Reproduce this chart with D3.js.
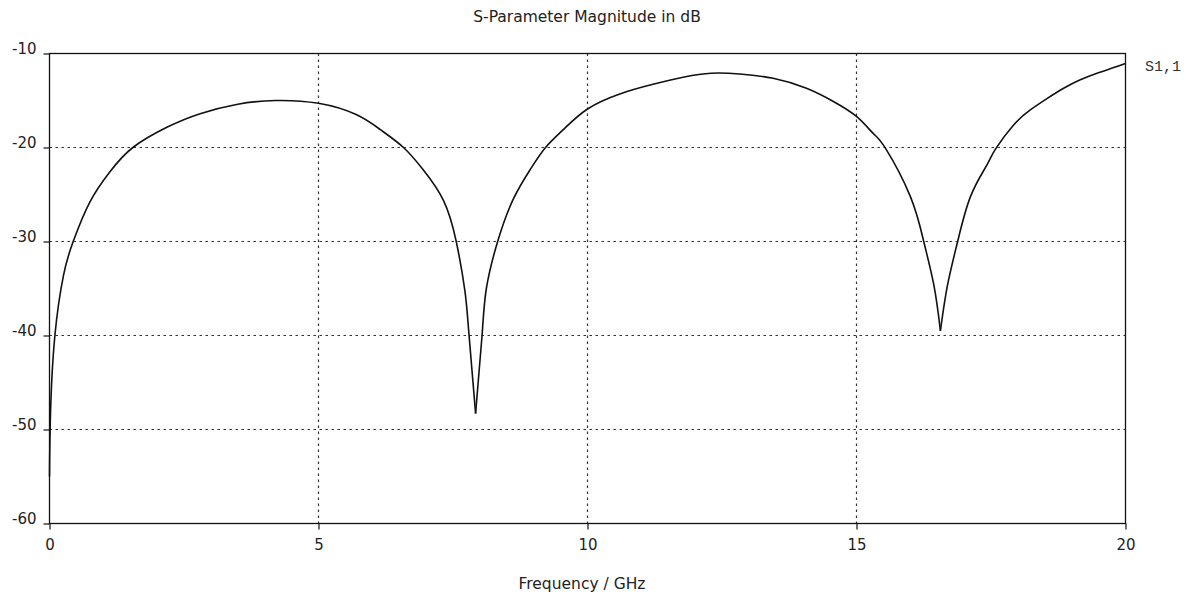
<!DOCTYPE html>
<html>
<head>
<meta charset="utf-8">
<script src="https://cdn.jsdelivr.net/npm/d3@7"></script>
<style>
  html, body { margin: 0; padding: 0; background: #ffffff; }
  svg { display: block; }
</style>
</head>
<body>
<svg id="chart" width="1192" height="598"></svg>
<script>
// ---- data ----
const frequencyGHz = [0, 0.02, 0.1, 0.26, 0.44, 0.75, 1.12, 1.55, 2.2, 2.8, 3.5, 4.2, 5.0, 5.7, 6.15, 6.58, 6.95, 7.32, 7.56, 7.72, 7.79, 7.92, 8.04, 8.12, 8.33, 8.62, 8.94, 9.22, 9.55, 10.0, 10.6, 11.2, 11.8, 12.3, 12.83, 13.45, 14.07, 14.57, 15.0, 15.31, 15.54, 16.0, 16.25, 16.44, 16.56, 16.69, 16.88, 17.12, 17.42, 17.58, 17.92, 18.23, 18.54, 18.85, 19.16, 19.47, 19.78, 20];
const s11dB = [-55, -48, -40, -33.6, -30, -25.8, -22.6, -20, -17.8, -16.4, -15.4, -15.0, -15.3, -16.5, -18.1, -20, -22.4, -25.6, -30, -35.2, -39.4, -48.3, -40, -35, -30, -25.5, -22.3, -20, -18.1, -15.9, -14.3, -13.3, -12.5, -12.1, -12.18, -12.64, -13.7, -15.1, -16.7, -18.5, -20.1, -25.2, -30, -34.7, -39.5, -34.7, -30, -25.2, -21.9, -20.2, -17.6, -16.0, -14.8, -13.7, -12.8, -12.1, -11.5, -11.05];
const xTicks = [0, 5, 10, 15, 20];
const yTicks = [-60, -50, -40, -30, -20, -10];
const titleText = "S-Parameter Magnitude in dB";
const xLabelText = "Frequency / GHz";
const seriesName = "S1,1";

const svg = d3.select("#chart");
const pLeft = 49.5, pRight = 1125.5, pTop = 53.5, pBottom = 523.5;

const x = d3.scaleLinear().domain([0, 20]).range([pLeft, pRight]);
const y = d3.scaleLinear().domain([-60, -10]).range([pBottom, pTop]);

const font = "'DejaVu Sans', Verdana, sans-serif";

// grid
const grid = svg.append("g").attr("stroke", "#333").attr("stroke-width", 1.2).attr("stroke-dasharray", "2.5,3.5");
grid.selectAll("line.h").data(yTicks.filter(d => d > -60 && d < -10)).enter().append("line")
  .attr("x1", pLeft).attr("x2", pRight).attr("y1", d => y(d)).attr("y2", d => y(d));
grid.selectAll("line.v").data(xTicks.filter(d => d > 0 && d < 20)).enter().append("line")
  .attr("y1", pTop).attr("y2", pBottom).attr("x1", d => x(d)).attr("x2", d => x(d));

// axes
const fmt = d => String(d);
const xAxis = svg.append("g").attr("transform", `translate(0,${pBottom})`)
  .call(d3.axisBottom(x).tickValues(xTicks).tickSize(6).tickPadding(6).tickFormat(fmt));
const yAxis = svg.append("g").attr("transform", `translate(${pLeft},0)`)
  .call(d3.axisLeft(y).tickValues(yTicks).tickSize(6).tickPadding(8).tickFormat(fmt));
[xAxis, yAxis].forEach(a => {
  a.select(".domain").remove();
  a.selectAll(".tick line").attr("stroke", "#111").attr("stroke-width", 1.2);
  a.selectAll(".tick text").attr("font-family", font).attr("font-size", 15).attr("fill", "#222");
});
yAxis.selectAll(".tick text").attr("dy", "0em").attr("x", -13);
xAxis.selectAll(".tick text").attr("dy", "0.95em");

// frame
svg.append("rect").attr("x", pLeft).attr("y", pTop).attr("width", pRight - pLeft).attr("height", pBottom - pTop)
  .attr("fill", "none").attr("stroke", "#111").attr("stroke-width", 1.3);

// curve: split at the local minima (resonance dips) so each smooth arc is splined on its own
const pts = frequencyGHz.map((f, i) => [f, s11dB[i]]);
const cuts = [0];
for (let i = 1; i < pts.length - 1; i++) {
  if (pts[i][1] < pts[i - 1][1] && pts[i][1] < pts[i + 1][1]) cuts.push(i);
}
cuts.push(pts.length - 1);
const segments = [];
for (let k = 0; k < cuts.length - 1; k++) segments.push(pts.slice(cuts[k], cuts[k + 1] + 1));
const line = d3.line().x(d => x(d[0])).y(d => y(d[1])).curve(d3.curveNatural);
svg.append("g").selectAll("path").data(segments).enter().append("path")
  .attr("d", line).attr("fill", "none").attr("stroke", "#111").attr("stroke-width", 1.6)
  .attr("stroke-linejoin", "miter");

// texts
svg.append("text").attr("x", 587).attr("y", 22).attr("text-anchor", "middle")
  .attr("font-family", font).attr("font-size", 15.5).attr("fill", "#222").text(titleText);
svg.append("text").attr("x", 582).attr("y", 589).attr("text-anchor", "middle")
  .attr("font-family", font).attr("font-size", 15.5).attr("fill", "#222").text(xLabelText);
svg.append("text").attr("x", 1145).attr("y", 71).attr("text-anchor", "start")
  .attr("font-family", "'Liberation Mono', 'Courier New', monospace").attr("font-size", 15).attr("fill", "#333").text(seriesName);
</script>
</body>
</html>
